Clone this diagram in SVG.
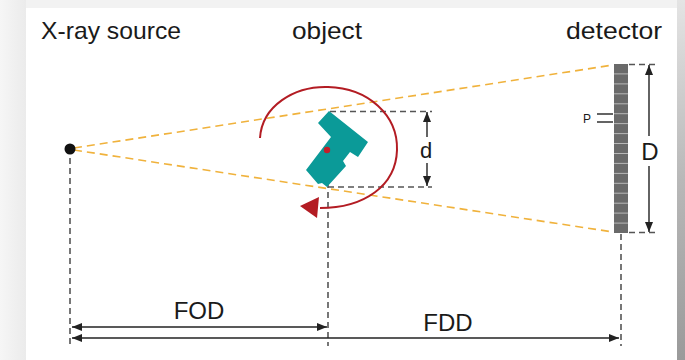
<svg xmlns="http://www.w3.org/2000/svg" width="685" height="360" viewBox="0 0 685 360">
  <defs>
    <linearGradient id="edgeR" x1="0" y1="0" x2="0" y2="1">
      <stop offset="0" stop-color="#e4e4e4"/>
      <stop offset="0.5" stop-color="#b8b8b8"/>
      <stop offset="1" stop-color="#9a9a9a"/>
    </linearGradient>
    <linearGradient id="edgeL" x1="0" y1="0" x2="1" y2="0">
      <stop offset="0" stop-color="#f6f6f6"/>
      <stop offset="1" stop-color="#ebebeb"/>
    </linearGradient>
    <marker id="arr" viewBox="0 0 10 8" refX="10" refY="4" markerWidth="10" markerHeight="8" markerUnits="userSpaceOnUse" orient="auto-start-reverse">
      <path d="M0,0 L10,4 L0,8 Z" fill="#222"/>
    </marker>
    <style>
      .lbl { font-family: "Liberation Sans", Arial, sans-serif; font-size: 24px; fill: #1a1a1a; }
      .small { font-size: 12px; }
      .mid { font-size: 22px; }
      .ray { stroke: #f0b23c; stroke-width: 1.6; stroke-dasharray: 8 5; fill: none; }
      .guide { stroke: #555; stroke-width: 1.6; stroke-dasharray: 6 4; fill: none; }
      .dim { stroke: #222; stroke-width: 1.4; fill: none; }
      .cell { stroke: #b8b8b8; stroke-width: 1; }
    </style>
  </defs>

  <!-- page backdrop and card -->
  <rect x="0" y="0" width="685" height="360" fill="#f2f2f2"/>
  <rect x="0" y="0" width="26" height="360" fill="url(#edgeL)"/>
  <rect x="677" y="0" width="8" height="360" fill="url(#edgeR)"/>
  <rect x="26" y="8" width="651" height="352" fill="#ffffff"/>

  <!-- titles -->
  <g id="labels">
    <text class="lbl" x="41" y="39" textLength="140" lengthAdjust="spacingAndGlyphs">X-ray source</text>
    <text class="lbl" x="292" y="39" textLength="70" lengthAdjust="spacingAndGlyphs">object</text>
    <text class="lbl" x="566" y="39" textLength="96" lengthAdjust="spacingAndGlyphs">detector</text>
  </g>

  <!-- connectors: rays, guides, dimensions -->
  <g id="connectors">
    <line class="ray" x1="74" y1="148" x2="613" y2="65"/>
    <line class="ray" x1="74" y1="150" x2="613" y2="232"/>

    <line class="guide" x1="70" y1="158" x2="70" y2="346"/>
    <line class="guide" x1="328" y1="152" x2="328" y2="346"/>
    <line class="guide" x1="621" y1="234" x2="621" y2="346"/>

    <line class="guide" x1="330" y1="111.5" x2="432" y2="111.5"/>
    <line class="guide" x1="328" y1="187" x2="432" y2="187"/>
    <line class="guide" x1="629" y1="64.5" x2="657" y2="64.5"/>
    <line class="guide" x1="629" y1="232.5" x2="657" y2="232.5"/>

    <line class="dim" x1="72" y1="327" x2="327" y2="327" marker-start="url(#arr)" marker-end="url(#arr)"/>
    <line class="dim" x1="72" y1="338" x2="619" y2="338" marker-start="url(#arr)" marker-end="url(#arr)"/>

    <line class="dim" x1="427" y1="137" x2="427" y2="112" marker-end="url(#arr)"/>
    <line class="dim" x1="427" y1="163" x2="427" y2="186" marker-end="url(#arr)"/>

    <line class="dim" x1="649" y1="136" x2="649" y2="65" marker-end="url(#arr)"/>
    <line class="dim" x1="649" y1="166" x2="649" y2="232" marker-end="url(#arr)"/>
  </g>

  <!-- dimension labels -->
  <g id="dim-labels">
    <text class="lbl" x="199" y="319" text-anchor="middle">FOD</text>
    <text class="lbl" x="448" y="331" text-anchor="middle">FDD</text>
    <text class="lbl mid" x="426" y="158" text-anchor="middle">d</text>
    <text class="lbl" x="650" y="160" text-anchor="middle">D</text>
  </g>

  <!-- X-ray source -->
  <g id="source">
    <circle cx="70" cy="149" r="5.5" fill="#111"/>
  </g>

  <!-- object with rotation arrow -->
  <g id="object">
    <path d="M260,138 C262,106 294,86 328,87 C368,88 398,115 397,150 C396,186 364,208 320,208" fill="none" stroke="#b31c23" stroke-width="2"/>
    <path d="M300,206 L319,197 L317,218 Z" fill="#b31c23"/>
    <polygon points="329,111 368,142 358,157 350,152 343,161 346,166 327,187 322,183 318,184 306,170 331,137 318,123" fill="#0b9a98"/>
    <circle cx="327" cy="150" r="3.2" fill="#c41f2a"/>
  </g>

  <!-- detector -->
  <g id="detector">
    <rect x="614" y="64" width="14" height="169" fill="#6a6a6a"/>
    <g class="cell">
      <line x1="614" y1="73.9" x2="628" y2="73.9"/>
      <line x1="614" y1="83.9" x2="628" y2="83.9"/>
      <line x1="614" y1="93.8" x2="628" y2="93.8"/>
      <line x1="614" y1="103.8" x2="628" y2="103.8"/>
      <line x1="614" y1="113.7" x2="628" y2="113.7"/>
      <line x1="614" y1="123.6" x2="628" y2="123.6"/>
      <line x1="614" y1="133.6" x2="628" y2="133.6"/>
      <line x1="614" y1="143.5" x2="628" y2="143.5"/>
      <line x1="614" y1="153.5" x2="628" y2="153.5"/>
      <line x1="614" y1="163.4" x2="628" y2="163.4"/>
      <line x1="614" y1="173.4" x2="628" y2="173.4"/>
      <line x1="614" y1="183.3" x2="628" y2="183.3"/>
      <line x1="614" y1="193.2" x2="628" y2="193.2"/>
      <line x1="614" y1="203.2" x2="628" y2="203.2"/>
      <line x1="614" y1="213.1" x2="628" y2="213.1"/>
      <line x1="614" y1="223.1" x2="628" y2="223.1"/>
    </g>
    <line x1="597" y1="114" x2="613" y2="114" stroke="#222" stroke-width="1.4"/>
    <line x1="597" y1="122" x2="613" y2="122" stroke="#222" stroke-width="1.4"/>
    <text class="lbl small" x="583" y="123">P</text>
  </g>
</svg>
